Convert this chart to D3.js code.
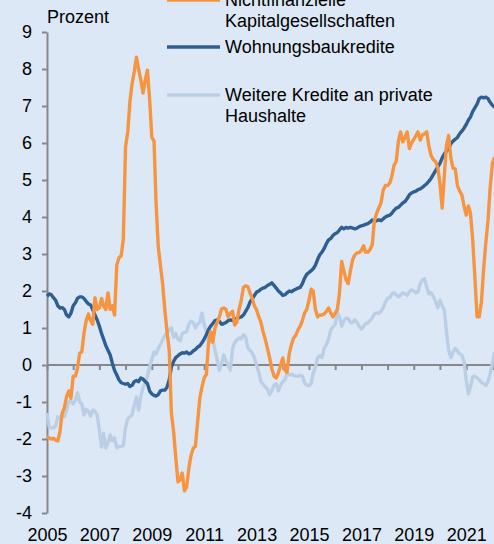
<!DOCTYPE html>
<html>
<head>
<meta charset="utf-8">
<style>
  body { margin: 0; background: #dce8f6; }
  svg { display: block; font-family: "Liberation Sans", Arial, sans-serif; }
  .axis path, .axis line { stroke: #888888; stroke-width: 2px; }
  .axis text { fill: #000; font-size: 18px; font-family: "Liberation Sans", Arial, sans-serif; }
  .legend text { font-size: 18px; fill: #000; }
</style>
</head>
<body>
<svg width="494" height="544"></svg>
<script src="https://d3js.org/d3.v7.min.js"></script>
<script>
// monthly values from Jan 2005
var startYear = 2005;
var yTicks = [-4, -3, -2, -1, 0, 1, 2, 3, 4, 5, 6, 7, 8, 9];
var yearTicks = d3.range(2005, 2023);
var yearLabels = [2005, 2007, 2009, 2011, 2013, 2015, 2017, 2019, 2021];
var seriesNames = [["Nichtfinanzielle", "Kapitalgesellschaften"], ["Wohnungsbaukredite"], ["Weitere Kredite an private", "Haushalte"]];
var seriesColors = ["#f7943f", "#2f5f92", "#bacfe6"];

var firmLoans = [
  -1.95,-1.97,-2.0,-1.98,-2.03,-2.05,-1.8,-1.3,-1.15,-0.85,-0.7,-0.9,
  -0.3,-0.3,-0.1,0.32,0.35,0.86,1.2,1.38,1.2,1.1,1.82,1.5,
  1.55,1.8,1.6,1.5,1.95,1.5,1.6,1.35,2.7,2.9,2.95,3.4,
  5.9,6.3,7.1,7.6,7.92,8.32,8.0,7.7,7.35,7.7,7.97,7.2,
  6.16,6.05,4.4,3.2,2.7,2.2,1.5,0.9,0.4,-1.3,-1.8,-2.5,
  -3.16,-3.1,-2.92,-3.4,-3.3,-2.8,-2.45,-2.25,-2.2,-1.55,-0.9,-0.6,
  -0.35,-0.25,0.55,0.9,0.62,1.0,1.14,1.3,1.52,1.54,1.5,1.3,
  1.4,1.45,1.08,1.16,1.5,1.75,2.1,2.14,2.12,1.95,1.8,1.6,
  1.49,1.3,1.16,0.9,0.7,0.45,0.2,-0.1,-0.3,-0.35,-0.22,0.0,
  0.19,-0.14,-0.2,0.3,0.55,0.73,0.8,0.95,1.05,1.2,1.41,1.5,
  1.75,2.05,2.0,1.5,1.3,1.35,1.35,1.38,1.45,1.54,1.4,1.3,
  1.4,1.5,1.95,2.8,2.55,2.3,2.2,2.55,2.85,2.97,3.03,3.04,
  3.1,3.22,3.05,3.05,3.12,3.25,3.9,4.1,4.25,4.38,4.73,4.85,
  4.85,4.92,5.1,5.4,5.5,6.05,6.3,6.03,6.15,6.3,5.85,6.0,
  6.1,6.2,6.3,6.08,6.22,6.25,6.3,5.9,5.65,5.55,5.5,5.35,
  4.9,4.24,5.1,5.95,6.2,5.6,5.32,5.3,4.85,4.7,4.6,4.3,
  4.05,4.3,4.1,3.4,2.4,1.3,1.3,1.7,2.6,3.3,3.9,4.8,
  5.45,5.62
];

var housingLoans = [
  1.86,1.92,1.9,1.82,1.75,1.6,1.54,1.55,1.5,1.35,1.3,1.4,
  1.6,1.68,1.8,1.84,1.84,1.8,1.72,1.65,1.62,1.5,1.35,1.22,
  1.05,0.85,0.7,0.52,0.4,0.27,0.05,-0.15,-0.27,-0.4,-0.48,-0.5,
  -0.52,-0.5,-0.58,-0.55,-0.45,-0.42,-0.45,-0.35,-0.38,-0.45,-0.5,-0.7,
  -0.78,-0.82,-0.84,-0.8,-0.7,-0.68,-0.68,-0.6,-0.4,-0.05,0.1,0.2,
  0.25,0.3,0.33,0.32,0.35,0.3,0.32,0.38,0.42,0.48,0.52,0.6,
  0.7,0.82,0.95,1.05,1.12,1.2,1.22,1.18,1.1,1.12,1.15,1.2,
  1.22,1.2,1.24,1.26,1.28,1.3,1.35,1.45,1.55,1.7,1.78,1.88,
  1.97,2.0,2.05,2.08,2.1,2.15,2.18,2.22,2.15,2.08,2.0,1.95,
  1.88,1.9,1.95,2.0,1.98,2.02,2.05,2.08,2.1,2.2,2.35,2.45,
  2.5,2.55,2.6,2.7,2.85,2.98,3.05,3.15,3.28,3.38,3.42,3.5,
  3.55,3.58,3.65,3.72,3.68,3.72,3.7,3.72,3.7,3.68,3.7,3.74,
  3.76,3.78,3.8,3.82,3.86,3.92,3.88,3.9,3.92,3.9,3.95,4.0,
  4.03,4.05,4.1,4.18,4.24,4.26,4.32,4.38,4.42,4.5,4.6,4.65,
  4.68,4.7,4.74,4.76,4.8,4.85,4.9,4.97,5.05,5.15,5.25,5.35,
  5.45,5.6,5.7,5.78,5.85,5.98,6.05,6.1,6.15,6.25,6.32,6.4,
  6.5,6.62,6.7,6.85,6.95,7.05,7.2,7.24,7.22,7.24,7.2,7.1,
  7.02,6.97
];

var otherLoans = [
  -1.3,-1.68,-1.7,-1.7,-1.65,-1.4,-1.45,-1.35,-1.4,-1.22,-1.0,-0.98,
  -1.05,-0.95,-0.75,-1.0,-1.05,-1.35,-1.2,-1.25,-1.38,-1.22,-1.25,-1.35,
  -1.76,-2.22,-1.85,-2.24,-2.1,-1.89,-2.05,-1.97,-2.24,-2.2,-2.2,-2.18,
  -1.68,-1.45,-1.4,-1.35,-1.1,-0.86,-1.22,-0.85,-0.6,-0.5,-0.3,-0.05,
  0.15,0.35,0.3,0.45,0.55,0.68,0.8,0.88,0.95,1.0,0.75,0.85,
  0.7,0.65,0.85,0.88,0.9,1.1,1.18,1.15,1.0,1.1,1.15,1.4,
  1.1,0.9,0.62,0.62,0.68,0.4,0.14,-0.14,0.05,0.27,0.1,0.0,
  -0.14,0.45,0.6,0.68,0.73,0.7,0.82,0.75,0.46,0.4,0.32,0.2,
  0.0,-0.2,-0.45,-0.52,-0.59,-0.65,-0.8,-0.7,-0.55,-0.5,-0.7,-0.55,
  -0.45,-0.4,-0.22,-0.27,-0.25,-0.28,-0.3,-0.3,-0.28,-0.3,-0.49,-0.54,
  -0.56,-0.5,-0.22,-0.05,0.19,0.25,0.2,0.45,0.55,0.7,0.95,1.03,
  1.1,1.41,1.3,1.05,1.2,1.27,1.25,1.15,1.14,1.22,1.15,1.05,
  0.97,1.05,1.12,1.14,1.2,1.27,1.38,1.41,1.4,1.45,1.55,1.7,
  1.8,1.82,1.92,1.95,1.9,1.84,1.89,1.95,1.92,1.88,1.98,2.03,
  2.0,1.95,1.98,2.2,2.3,2.33,2.1,1.92,1.95,1.85,1.72,1.55,
  1.75,1.6,1.49,0.9,0.4,0.2,0.35,0.45,0.38,0.3,0.27,0.1,
  -0.4,-0.78,-0.6,-0.32,-0.3,-0.35,-0.4,-0.48,-0.5,-0.55,-0.45,-0.25,
  0.05,0.35
];

var svg = d3.select("svg");
var width = 494, height = 544;

svg.append("rect").attr("width", width).attr("height", height).attr("fill", "#dce8f6");

var x = d3.scaleTime()
    .domain([new Date(2005, 0, 1), new Date(2022, 0, 1)])
    .range([47, 492.4]);
var y = d3.scaleLinear().domain([-4, 9]).range([513, 32]);

function monthDate(i) { return new Date(startYear, i, 1); }

// y axis
svg.append("g")
    .attr("class", "axis")
    .attr("transform", "translate(47,0)")
    .call(d3.axisLeft(y).tickValues(yTicks).tickSize(5).tickPadding(10).tickSizeOuter(0)
        .tickFormat(function(d) { return d < 0 ? "-" + Math.abs(d) : d; }));

// x axis on the zero line, ticks only
svg.append("g")
    .attr("class", "axis")
    .attr("transform", "translate(0," + y(0) + ")")
    .call(d3.axisBottom(x).tickValues(yearTicks.map(function(d) { return new Date(d, 0, 1); }))
        .tickSize(5).tickSizeOuter(0).tickFormat(""))
    .select(".domain").attr("d", "M47,0H494");

// year labels at the bottom
var labelAxis = svg.append("g")
    .attr("class", "axis")
    .attr("transform", "translate(0,513)")
    .call(d3.axisBottom(x).tickValues(yearLabels.map(function(d) { return new Date(d, 0, 1); }))
        .tickSize(0).tickPadding(15).tickFormat(d3.timeFormat("%Y")));
labelAxis.select(".domain").remove();

svg.append("text")
    .attr("x", 47).attr("y", 23)
    .attr("font-size", "18px")
    .text("Prozent");

var line = d3.line()
    .x(function(d, i) { return x(monthDate(i)); })
    .y(function(d) { return y(d); });

var drawOrder = [[otherLoans, 2], [housingLoans, 1], [firmLoans, 0]];
drawOrder.forEach(function(s) {
    svg.append("path")
        .datum(s[0])
        .attr("fill", "none")
        .attr("stroke", seriesColors[s[1]])
        .attr("stroke-width", 3.4)
        .attr("stroke-linejoin", "round")
        .attr("d", line);
});

// legend
var legendY = [0, 47, 95];
var legend = svg.append("g").attr("class", "legend");
seriesNames.forEach(function(name, i) {
    legend.append("line")
        .attr("x1", 167).attr("x2", 220)
        .attr("y1", legendY[i]).attr("y2", legendY[i])
        .attr("stroke", seriesColors[i])
        .attr("stroke-width", 3.5);
    var t = legend.append("text").attr("x", 225).attr("y", legendY[i] + 6);
    name.forEach(function(part, j) {
        t.append("tspan").attr("x", 225).attr("dy", j === 0 ? 0 : 21).text(part);
    });
});
</script>
</body>
</html>
